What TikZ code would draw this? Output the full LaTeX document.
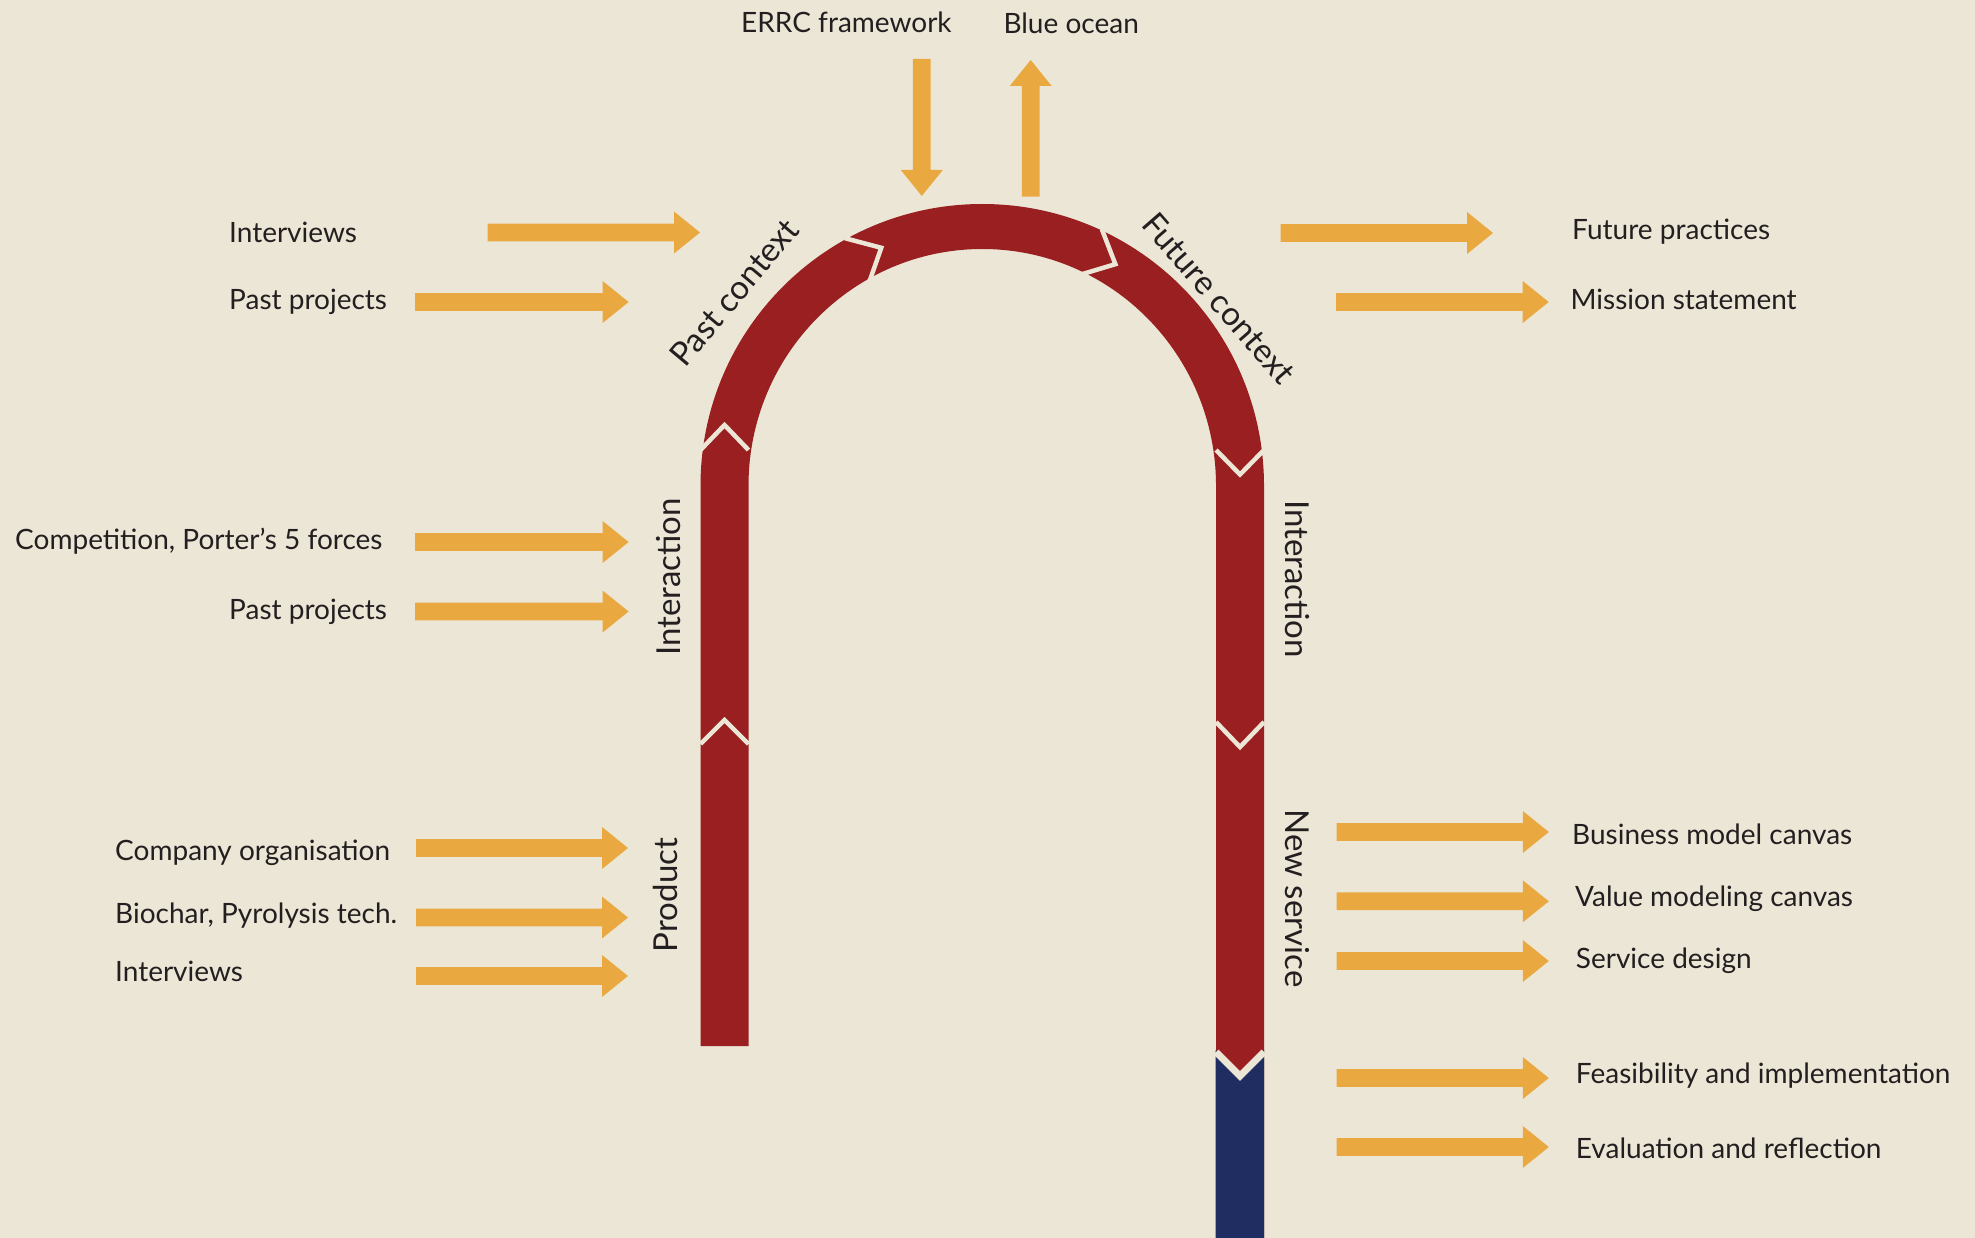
\documentclass[tikz,border=0pt]{standalone}
\usepackage{fontspec}
\setmainfont{Lato}
\usetikzlibrary{calc}
\definecolor{bg}{RGB}{236,230,214}
\definecolor{band}{RGB}{153,31,32}
\definecolor{navy}{RGB}{31,45,96}
\definecolor{amber}{RGB}{234,169,64}
\definecolor{ink}{RGB}{35,31,32}

% block arrows: shaft 17.7 thick, head 42 wide and 26 long
\newcommand\rightBlockArrow[3]{% x start, x tip, y
  \fill[amber] (#1,{#3-8.85}) -- ({#2-26},{#3-8.85}) -- ({#2-26},{#3-21}) -- (#2,#3)
    -- ({#2-26},{#3+21}) -- ({#2-26},{#3+8.85}) -- (#1,{#3+8.85}) -- cycle;}
\newcommand\downBlockArrow[3]{% x, y start (top), y tip
  \fill[amber] ({#1-8.85},#2) -- ({#1-8.85},{#3-26}) -- ({#1-21},{#3-26}) -- (#1,#3)
    -- ({#1+21},{#3-26}) -- ({#1+8.85},{#3-26}) -- ({#1+8.85},#2) -- cycle;}
\newcommand\upBlockArrow[3]{% x, y start (bottom), y tip
  \fill[amber] ({#1-8.85},#2) -- ({#1-8.85},{#3+26}) -- ({#1-21},{#3+26}) -- (#1,#3)
    -- ({#1+21},{#3+26}) -- ({#1+8.85},{#3+26}) -- ({#1+8.85},#2) -- cycle;}

\begin{document}
\begin{tikzpicture}[x=1pt,y=-1pt,
  lbl/.style={inner sep=0pt, text=ink, font=\fontsize{28}{30}\selectfont},
  seg/.style={inner sep=0pt, text=ink, font=\fontsize{33}{36}\selectfont},
  gap/.style={draw=bg, line width=4.5pt, line join=miter, line cap=butt},
]
\fill[bg] (0,0) rectangle (1975,1238);
\useasboundingbox (0,0) rectangle (1975,1238);

% U-shaped band
\coordinate (c) at (982.25,485.75);
\fill[band] (700.5,1046) -- (700.5,485.75) arc[start angle=180,end angle=360,radius=281.75]
  -- (1264,1238) -- (1216,1238) -- (1216,485.75)
  arc[start angle=360,end angle=180,x radius=233.75,y radius=236.75]
  -- (748.5,1046) -- cycle;
% last stage
\fill[navy] (1215.5,1238) -- (1215.5,1050) -- (1240,1074) -- (1264,1050) -- (1264,1238) -- cycle;

% separations between the stages
\draw[gap] (700.5,450) -- (724.5,425) -- (748.5,450);
\draw[gap] (700.5,744) -- (724.5,720) -- (748.5,744);
\draw[gap] (1216,450) -- (1240,474.5) -- (1264,450);
\draw[gap] (1216,722) -- (1240,747) -- (1264,722);
\draw[gap, line width=7pt] (1216,1052) -- (1240,1076) -- (1264,1052);
\draw[gap] ($(c)+(241:283)$) -- ($(c)+(247:258.5)$) -- ($(c)+(241:233)$);
\draw[gap] ($(c)+(295:283)$) -- ($(c)+(301:258.5)$) -- ($(c)+(295:233)$);

% stage names
\node[seg, rotate=50, anchor=base] (s-past) at (743,300) {Past context};
\node[seg, rotate=-49, anchor=base] (s-future) at (1210,306) {Future context};
\node[seg, rotate=90, anchor=base] (s-int-l) at (680,577) {Interaction};
\node[seg, rotate=90, anchor=base] (s-product) at (677,895) {Product};
\node[seg, rotate=-90, anchor=base] (s-int-r) at (1285,579) {Interaction};
\node[seg, rotate=-90, anchor=base] (s-new) at (1285,898.5) {New service};

% inputs and outputs
\downBlockArrow{921.8}{59}{196}
\upBlockArrow{1030.7}{196.7}{60}
\rightBlockArrow{487.5}{700}{232.5}
\rightBlockArrow{415}{628.6}{302}
\rightBlockArrow{415}{628.6}{542}
\rightBlockArrow{415}{628.6}{611.5}
\rightBlockArrow{416}{628}{848}
\rightBlockArrow{416}{628}{917.5}
\rightBlockArrow{416}{628}{976}
\rightBlockArrow{1280.7}{1493}{233}
\rightBlockArrow{1336}{1548.7}{302}
\rightBlockArrow{1336.5}{1548.8}{832}
\rightBlockArrow{1336.5}{1548.8}{901.3}
\rightBlockArrow{1336.5}{1548.8}{961}
\rightBlockArrow{1336.5}{1548.8}{1078}
\rightBlockArrow{1336.5}{1548.8}{1147}

\node[lbl, anchor=base west] (t-errc) at (741,32.3) {ERRC framework};
\node[lbl, anchor=base west] (t-blue) at (1003.3,34) {Blue ocean};
\node[lbl, anchor=base west] (t-int1) at (229,242.7) {Interviews};
\node[lbl, anchor=base west] (t-past1) at (229,310) {Past projects};
\node[lbl, anchor=base west] (t-comp) at (15,549.3) {Competition, Porter’s 5 forces};
\node[lbl, anchor=base west] (t-past2) at (229,619.3) {Past projects};
\node[lbl, anchor=base west] (t-company) at (115,860.7) {Company organisation};
\node[lbl, anchor=base west] (t-biochar) at (115,923.3) {Biochar, Pyrolysis tech.};
\node[lbl, anchor=base west] (t-int2) at (115,981) {Interviews};
\node[lbl, anchor=base west] (t-fut) at (1572,239.3) {Future practices};
\node[lbl, anchor=base west] (t-mission) at (1570.4,309.3) {Mission statement};
\node[lbl, anchor=base west] (t-bmc) at (1572,844) {Business model canvas};
\node[lbl, anchor=base west] (t-vmc) at (1575,906.7) {Value modeling canvas};
\node[lbl, anchor=base west] (t-sd) at (1575.7,968.3) {Service design};
\node[lbl, anchor=base west] (t-feas) at (1575.7,1083.3) {Feasibility and implementation};
\node[lbl, anchor=base west] (t-eval) at (1575.7,1158) {Evaluation and reflection};
\end{tikzpicture}
\end{document}
